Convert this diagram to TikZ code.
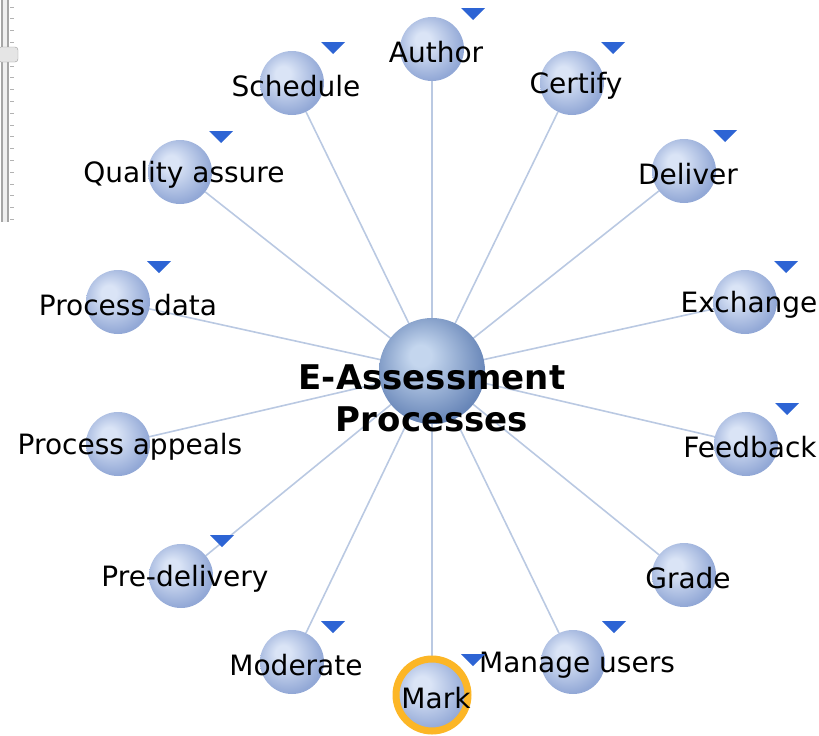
\documentclass[tikz,border=0pt]{standalone}
\usepackage{fontspec}
\setmainfont{DejaVu Sans}
\usetikzlibrary{backgrounds}

\definecolor{ballhi}{RGB}{218,228,246}
\definecolor{balledge}{RGB}{146,168,214}
\definecolor{bighi}{RGB}{196,214,238}
\definecolor{bigedge}{RGB}{104,134,184}
\definecolor{spoke}{RGB}{186,201,226}
\definecolor{menublue}{RGB}{45,100,212}
\definecolor{markring}{RGB}{252,182,38}

\pgfdeclareradialshading{satball}{\pgfpoint{-8bp}{8bp}}{color(0bp)=(ballhi); color(6bp)=(ballhi); color(28bp)=(balledge); color(50bp)=(balledge)}
\pgfdeclareradialshading{bigball}{\pgfpoint{-6bp}{8bp}}{color(0bp)=(bighi); color(5bp)=(bighi); color(28bp)=(bigedge); color(50bp)=(bigedge)}

\tikzstyle{sat}   = [circle, minimum size=64pt, inner sep=0pt, outer sep=0pt, shading=satball]
\tikzstyle{hub}   = [circle, minimum size=106pt, inner sep=0pt, outer sep=0pt, shading=bigball]
\tikzstyle{lbl}   = [font=\fontsize{28}{30}\selectfont, xshift=4pt, yshift=-3pt, inner sep=0pt]
\tikzstyle{hubtxt}= [font=\fontsize{34}{42}\selectfont\bfseries, align=center, yshift=-27pt, inner sep=0pt]
\tikzstyle{link}  = [spoke, line width=1.6pt]

% little drop-down marker at the upper right of a node
\newcommand{\menu}[1]{\fill[menublue] ([shift={(29,-41)}]#1.center) -- ++(24,0) -- ++(-12,12) -- cycle;}

\begin{document}
\begin{tikzpicture}[x=1pt, y=-1pt]
  \useasboundingbox (0,0) rectangle (819,736);

  % zoom slider
  \fill[gray!12] (1,0) rectangle (9,222);
  \draw[gray!70, line width=1.2pt] (2,0) -- (2,222) (8,0) -- (8,222);
  \foreach \t in {7,18.8,...,222} \draw[gray!60, line width=1pt] (10,\t) -- (14,\t);
  \draw[gray!80, fill=gray!20, rounded corners=3pt] (-2,47) rectangle (18,62);

  \node[hub] (hub) at (432,371) {};
  \node[hubtxt] at (hub.center) {E-Assessment\\Processes};

  \node[sat, label={[lbl]center:Author}]          (author)      at (432,49)  {};
  \node[sat, label={[lbl]center:Certify}]         (certify)     at (572,83)  {};
  \node[sat, label={[lbl]center:Deliver}]         (deliver)     at (684,171) {};
  \node[sat, label={[lbl]center:Exchange}]        (exchange)    at (745,302) {};
  \node[sat, label={[lbl]center:Feedback}]        (feedback)    at (746,444) {};
  \node[sat, label={[lbl]center:Grade}]           (grade)       at (684,575) {};
  \node[sat, label={[lbl]center:Manage users}]    (manage)      at (573,662) {};
  \node[sat, draw=markring, line width=7pt, minimum size=72pt,
        label={[lbl]center:Mark}]                 (mark)        at (432,695) {};
  \node[sat, label={[lbl]center:Moderate}]        (moderate)    at (292,662) {};
  \node[sat, label={[lbl]center:Pre-delivery}]    (predelivery) at (181,576) {};
  \node[sat, label={[lbl, xshift=8pt]center:Process appeals}] (appeals) at (118,444) {};
  \node[sat, label={[lbl, xshift=6pt]center:Process data}]    (procdata) at (118,302) {};
  \node[sat, label={[lbl]center:Quality assure}]  (quality)     at (180,172) {};
  \node[sat, label={[lbl]center:Schedule}]        (schedule)    at (292,83)  {};

  \begin{scope}[on background layer]
    \draw[link] (hub.center) -- (author);
    \draw[link] (hub.center) -- (certify);
    \draw[link] (hub.center) -- (deliver);
    \draw[link] (hub.center) -- (exchange);
    \draw[link] (hub.center) -- (feedback);
    \draw[link] (hub.center) -- (grade);
    \draw[link] (hub.center) -- (manage);
    \draw[link] (hub.center) -- (mark);
    \draw[link] (hub.center) -- (moderate);
    \draw[link] (hub.center) -- (predelivery);
    \draw[link] (hub.center) -- (appeals);
    \draw[link] (hub.center) -- (procdata);
    \draw[link] (hub.center) -- (quality);
    \draw[link] (hub.center) -- (schedule);
  \end{scope}

  \menu{author} \menu{certify} \menu{deliver} \menu{exchange}
  \menu{feedback} \menu{manage} \menu{mark} \menu{moderate}
  \menu{predelivery} \menu{procdata} \menu{quality} \menu{schedule}
\end{tikzpicture}
\end{document}
